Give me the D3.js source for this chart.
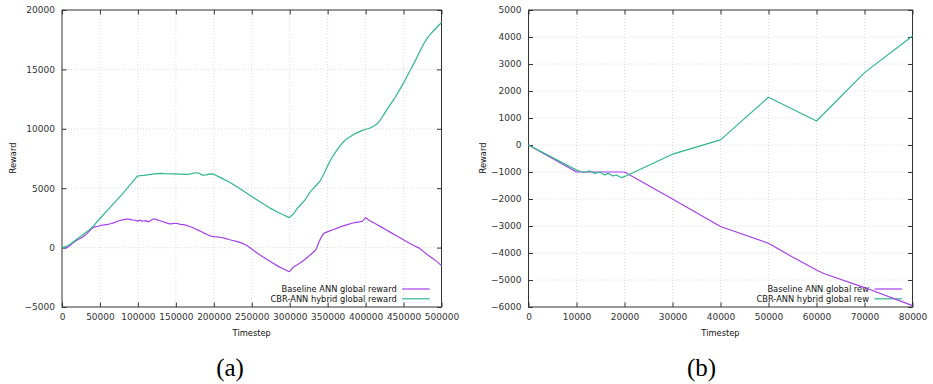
<!DOCTYPE html>
<html>
<head>
<meta charset="utf-8">
<script src="https://cdn.jsdelivr.net/npm/d3@7/dist/d3.min.js"></script>
<style>
  html, body { margin: 0; padding: 0; background: #fff; }
  svg { display: block; }
</style>
</head>
<body>
<svg id="chart" width="933" height="384"></svg>
<script>
// ---- Panel (a): long run, 0..500000 timesteps ----
const stepsA_baseline = [0, 3000, 6000, 9000, 12000, 15000, 18000, 21000, 24000, 27000, 30000, 33000, 36000, 39000, 42000, 45000, 48000, 52000, 56000, 60000, 64000, 68000, 72000, 76000, 80000, 84000, 88000, 92000, 96000, 100000, 103000, 106000, 110000, 114000, 118000, 121000, 124000, 128000, 132000, 136000, 140000, 144000, 148000, 152000, 156000, 160000, 164000, 168000, 172000, 176000, 180000, 184000, 188000, 192000, 196000, 200000, 205000, 210000, 215000, 220000, 225000, 230000, 237000, 243000, 250000, 257000, 265000, 275000, 285000, 292000, 299500, 302000, 305000, 309000, 314000, 320000, 327000, 334000, 336000, 338000, 341000, 344500, 347000, 352000, 357000, 362000, 367000, 372000, 377000, 382000, 387000, 392000, 396000, 398000, 400000, 404000, 410000, 416000, 422000, 428000, 434000, 440000, 446000, 452000, 458000, 464000, 470000, 476000, 482000, 488000, 494000, 500000];
const rewardA_baseline = [0, -30, -20, 100, 250, 420, 560, 680, 760, 870, 1020, 1200, 1400, 1580, 1720, 1760, 1800, 1900, 1920, 1960, 2010, 2080, 2200, 2280, 2340, 2390, 2400, 2330, 2300, 2230, 2320, 2220, 2270, 2170, 2320, 2430, 2380, 2280, 2200, 2120, 2010, 1990, 2050, 2030, 1960, 1930, 1870, 1780, 1700, 1560, 1450, 1330, 1200, 1080, 970, 920, 900, 850, 780, 680, 600, 520, 380, 200, -120, -450, -800, -1200, -1580, -1800, -2030, -1850, -1620, -1480, -1280, -1000, -620, -220, 50, 380, 800, 1180, 1260, 1390, 1500, 1620, 1760, 1850, 1960, 2050, 2120, 2170, 2220, 2400, 2520, 2330, 2110, 1900, 1680, 1460, 1240, 1020, 800, 580, 360, 160, -20, -320, -620, -900, -1180, -1520];

const stepsA_hybrid = [0, 4000, 8000, 12000, 16000, 20000, 25000, 30000, 35000, 40000, 50000, 60000, 70000, 80000, 90000, 99000, 102000, 108000, 115000, 122000, 129000, 135000, 145000, 155000, 165000, 170000, 175000, 180000, 185000, 190000, 195000, 200000, 210000, 221000, 232000, 243500, 255000, 265000, 275000, 285000, 292000, 299500, 305000, 310000, 315000, 320000, 326000, 330000, 335000, 340000, 345000, 350000, 355000, 360000, 365000, 370000, 375000, 380000, 385000, 390000, 395000, 400000, 405000, 410000, 415000, 420000, 425000, 430000, 437000, 445000, 452000, 459000, 466000, 472000, 477000, 482000, 488000, 494000, 500000];
const rewardA_hybrid = [0, 60, 180, 350, 530, 720, 950, 1200, 1450, 1720, 2450, 3150, 3850, 4550, 5300, 6000, 6050, 6080, 6150, 6200, 6250, 6220, 6200, 6180, 6170, 6200, 6300, 6280, 6100, 6120, 6200, 6180, 5850, 5500, 5050, 4570, 4100, 3700, 3300, 2950, 2750, 2520, 2850, 3300, 3650, 4000, 4600, 4900, 5250, 5600, 6200, 6900, 7500, 8000, 8450, 8850, 9150, 9350, 9550, 9700, 9850, 9960, 10050, 10200, 10400, 10800, 11300, 11800, 12450, 13300, 14100, 14950, 15800, 16600, 17200, 17700, 18150, 18550, 18950];

const ticksAX = [0, 50000, 100000, 150000, 200000, 250000, 300000, 350000, 400000, 450000, 500000];
const ticksAY = [-5000, 0, 5000, 10000, 15000, 20000];

// ---- Panel (b): short run, 0..80000 timesteps ----
const stepsB_baseline = [0, 10000, 20000, 30000, 40000, 50000, 55000, 60000, 61500, 70000, 80000];
const rewardB_baseline = [0, -1000, -1000, -2000, -3020, -3640, -4150, -4630, -4760, -5280, -5950];

const stepsB_hybrid = [0, 10000, 11000, 11700, 12800, 13800, 14900, 15900, 16600, 17600, 18300, 19400, 20400, 30000, 40000, 50000, 60000, 70000, 80000];
const rewardB_hybrid = [0, -930, -990, -1010, -960, -1050, -1010, -1110, -1050, -1150, -1110, -1210, -1140, -340, 190, 1770, 890, 2680, 4040];

const ticksBX = [0, 10000, 20000, 30000, 40000, 50000, 60000, 70000, 80000];
const ticksBY = [-6000, -5000, -4000, -3000, -2000, -1000, 0, 1000, 2000, 3000, 4000, 5000];

const seriesNames = ["Baseline ANN global reward", "CBR-ANN hybrid global reward"];
const seriesNamesShort = ["Baseline ANN global rew", "CBR-ANN hybrid global rew"];
const colors = ["#a43fe8", "#2fb78b"];

const SANS = "'DejaVu Sans', sans-serif";
const SERIF = "'Liberation Serif', 'DejaVu Serif', serif";

const svg = d3.select("#chart");
svg.append("rect").attr("width", 933).attr("height", 384).attr("fill", "#fff");

function drawPanel(cfg) {
  const { left, right, top, bottom } = cfg.box;
  const x = d3.scaleLinear().domain(cfg.xDomain).range([left, right]);
  const y = d3.scaleLinear().domain(cfg.yDomain).range([bottom, top]);
  const g = svg.append("g");

  // dotted grid
  const grid = g.append("g").attr("stroke", "#d4d4d4").attr("stroke-width", 0.8).attr("stroke-dasharray", "1,2");
  grid.selectAll(".gx").data(cfg.xTicks.slice(1, -1)).join("line")
    .attr("x1", d => x(d)).attr("x2", d => x(d)).attr("y1", top).attr("y2", bottom);
  grid.selectAll(".gy").data(cfg.yTicks.slice(1, -1)).join("line")
    .attr("y1", d => y(d)).attr("y2", d => y(d)).attr("x1", left).attr("x2", right);

  const styleAxis = sel => {
    sel.select(".domain").remove();
    sel.selectAll(".tick line").attr("stroke", "#333");
    sel.selectAll(".tick text").attr("fill", "#333").style("font-size", "9px").style("font-family", SANS);
  };

  // inward ticks on all four sides
  g.append("g").attr("transform", `translate(0,${bottom})`)
    .call(d3.axisBottom(x).tickValues(cfg.xTicks).tickFormat(d3.format("d")).tickSize(-4.5).tickPadding(6.5))
    .call(styleAxis);
  g.append("g").attr("transform", `translate(0,${top})`)
    .call(d3.axisTop(x).tickValues(cfg.xTicks).tickFormat("").tickSize(-4.5))
    .call(styleAxis);
  g.append("g").attr("transform", `translate(${left},0)`)
    .call(d3.axisLeft(y).tickValues(cfg.yTicks).tickFormat(d3.format("d")).tickSize(-4.5).tickPadding(7))
    .call(styleAxis);
  g.append("g").attr("transform", `translate(${right},0)`)
    .call(d3.axisRight(y).tickValues(cfg.yTicks).tickFormat("").tickSize(-4.5))
    .call(styleAxis);

  // frame
  g.append("rect").attr("x", left).attr("y", top).attr("width", right - left).attr("height", bottom - top)
    .attr("fill", "none").attr("stroke", "#333").attr("stroke-width", 1);

  // axis titles
  g.append("text").attr("x", (left + right) / 2).attr("y", 336).attr("text-anchor", "middle")
    .style("font-size", "8.3px").style("font-family", SANS).attr("fill", "#111").text("Timestep");
  g.append("text").attr("transform", `translate(${cfg.yTitleX},158) rotate(-90)`).attr("text-anchor", "middle")
    .style("font-size", "8.3px").style("font-family", SANS).attr("fill", "#111").text("Reward");

  // legend
  cfg.names.forEach((name, i) => {
    const ly = 289 + i * 9.8;
    g.append("text").attr("x", cfg.legendTextX).attr("y", ly + 3).attr("text-anchor", "end")
      .style("font-size", "8.3px").style("font-family", SANS).attr("fill", "#111").text(name);
    g.append("line").attr("x1", cfg.legendTextX + 5.5).attr("x2", cfg.legendTextX + 33)
      .attr("y1", ly).attr("y2", ly).attr("stroke", colors[i]).attr("stroke-width", 1.2);
  });

  // series
  const line = d3.line().x(d => x(d[0])).y(d => y(d[1]));
  cfg.series.forEach((s, i) => {
    const pts = d3.zip(s.steps, s.values);
    g.append("path").datum(pts).attr("d", line).attr("fill", "none")
      .attr("stroke", colors[i]).attr("stroke-width", 1.2).attr("stroke-linejoin", "round");
  });

  // caption
  svg.append("text").attr("x", cfg.captionX).attr("y", 376).attr("text-anchor", "middle")
    .style("font-family", SERIF).style("font-size", "25px").attr("fill", "#000")
    .text(cfg.caption);
}

drawPanel({
  box: { left: 62, right: 441.5, top: 10, bottom: 307 },
  xDomain: [0, 500000], yDomain: [-5000, 20000],
  xTicks: ticksAX, yTicks: ticksAY,
  yTitleX: 15.5, legendTextX: 396.7,
  names: seriesNames,
  series: [
    { steps: stepsA_baseline, values: rewardA_baseline },
    { steps: stepsA_hybrid, values: rewardA_hybrid }
  ],
  captionX: 230, caption: "(a)"
});

drawPanel({
  box: { left: 528.5, right: 912.5, top: 10, bottom: 307 },
  xDomain: [0, 80000], yDomain: [-6000, 5000],
  xTicks: ticksBX, yTicks: ticksBY,
  yTitleX: 486, legendTextX: 869,
  names: seriesNamesShort,
  series: [
    { steps: stepsB_baseline, values: rewardB_baseline },
    { steps: stepsB_hybrid, values: rewardB_hybrid }
  ],
  captionX: 701.5, caption: "(b)"
});
</script>
</body>
</html>
